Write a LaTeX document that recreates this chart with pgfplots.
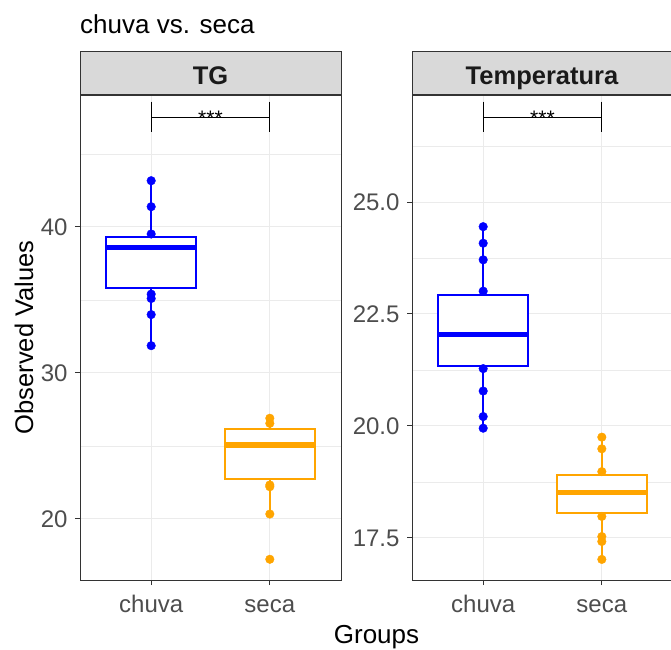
\documentclass[border=0pt]{standalone}
\usepackage{fontspec}
\setmainfont{Liberation Sans}
\usepackage{pgfplots}
\pgfplotsset{compat=1.18}

\definecolor{gridgray}{HTML}{EBEBEB}
\definecolor{gray20}{HTML}{333333}
\definecolor{gray30}{HTML}{4D4D4D}
\definecolor{stripgray}{HTML}{D9D9D9}
\definecolor{strtext}{HTML}{1A1A1A}
\definecolor{chuvacol}{HTML}{0000FF}
\definecolor{secacol}{HTML}{FFA500}

\pgfplotsset{
  panel/.style={
    scale only axis, width=261pt, height=485pt, anchor=south west,
    xmin=0.4, xmax=2.6, xtick={1,2}, xticklabels={chuva,seca},
    xmajorgrids, ymajorgrids, yminorgrids,
    major grid style={draw=gridgray, line width=1pt},
    minor grid style={draw=gridgray, line width=0.5pt},
    axis line style={draw=gray20, line width=1pt},
    tick style={draw=gray20, line width=1pt},
    tick align=outside, tick pos=left,
    major tick length=5pt, minor tick length=0pt,
    ticklabel style={font=\fontsize{24}{28}\selectfont, text=gray30},
    xticklabel style={text height=17pt, yshift=-7pt},
    yticklabel style={xshift=-4pt},
    /pgf/number format/assume math mode=true,
    clip=false,
  },
  whisk/.style={line width=1.8pt, mark=none},
  boxs/.style={line width=2pt, fill=white, mark=none, line join=miter},
  med/.style={line width=5.5pt, mark=none},
  pts/.style={only marks, mark=*, mark size=4.3pt},
}

\begin{document}
\begin{tikzpicture}
\path[use as bounding box] (0,0) rectangle (671pt,649pt);

% TG
\begin{axis}[panel, at={(80pt,69pt)}, name=tg,
  ymin=15.82, ymax=49.04, ytick={20,30,40}, minor ytick={25,35,45}]
% chuva: whiskers, points, box, median
\addplot[whisk, chuvacol] coordinates {(1,31.87) (1,35.8)};
\addplot[whisk, chuvacol] coordinates {(1,39.3) (1,43.17)};
\addplot[pts, chuvacol] coordinates {(1,43.17) (1,41.39) (1,39.52) (1,35.4) (1,35.1) (1,34.0) (1,31.87)};
\addplot[boxs, draw=chuvacol] coordinates {(0.62,35.8) (1.38,35.8) (1.38,39.3) (0.62,39.3)} -- cycle;
\addplot[med, chuvacol] coordinates {(0.62,38.58) (1.38,38.58)};
% seca (17.24 is an outlier)
\addplot[whisk, secacol] coordinates {(2,20.34) (2,22.72)};
\addplot[whisk, secacol] coordinates {(2,26.14) (2,26.9)};
\addplot[pts, secacol] coordinates {(2,26.9) (2,26.55) (2,22.33) (2,22.21) (2,20.34) (2,17.24)};
\addplot[boxs, draw=secacol] coordinates {(1.62,22.72) (2.38,22.72) (2.38,26.14) (1.62,26.14)} -- cycle;
\addplot[med, secacol] coordinates {(1.62,25.07) (2.38,25.07)};
\draw[black, line width=0.8pt] (axis cs:1,48.58) -- (axis cs:1,46.51)
  (axis cs:2,48.58) -- (axis cs:2,46.51) (axis cs:1,47.51) -- (axis cs:2,47.51);
\node[anchor=base, inner sep=0, font=\fontsize{21}{24}\selectfont] at (axis cs:1.5,46.92) {***};
\end{axis}

% Temperatura
\begin{axis}[panel, at={(412pt,69pt)}, name=temp,
  ymin=16.56, ymax=27.39, ytick={17.5,20,22.5,25}, minor ytick={16.25,18.75,21.25,23.75,26.25},
  yticklabel style={/pgf/number format/fixed, /pgf/number format/fixed zerofill,
    /pgf/number format/precision=1}]
\addplot[whisk, chuvacol] coordinates {(1,19.95) (1,21.34)};
\addplot[whisk, chuvacol] coordinates {(1,22.93) (1,24.45)};
\addplot[pts, chuvacol] coordinates {(1,24.45) (1,24.08) (1,23.71) (1,23.01) (1,21.28) (1,20.78) (1,20.21) (1,19.95)};
\addplot[boxs, draw=chuvacol] coordinates {(0.62,21.34) (1.38,21.34) (1.38,22.93) (0.62,22.93)} -- cycle;
\addplot[med, chuvacol] coordinates {(0.62,22.04) (1.38,22.04)};
\addplot[whisk, secacol] coordinates {(2,17.02) (2,18.05)};
\addplot[whisk, secacol] coordinates {(2,18.90) (2,19.75)};
\addplot[pts, secacol] coordinates {(2,19.75) (2,19.49) (2,18.98) (2,17.98) (2,17.53) (2,17.42) (2,17.02)};
\addplot[boxs, draw=secacol] coordinates {(1.62,18.05) (2.38,18.05) (2.38,18.90) (1.62,18.90)} -- cycle;
\addplot[med, secacol] coordinates {(1.62,18.51) (2.38,18.51)};
\draw[black, line width=0.8pt] (axis cs:1,27.24) -- (axis cs:1,26.56)
  (axis cs:2,27.24) -- (axis cs:2,26.56) (axis cs:1,26.89) -- (axis cs:2,26.89);
\node[anchor=base, inner sep=0, font=\fontsize{21}{24}\selectfont] at (axis cs:1.5,26.70) {***};
\end{axis}

% strips
\draw[fill=stripgray, draw=gray20, line width=1pt] (80pt,554pt) rectangle (341pt,597pt);
\draw[fill=stripgray, draw=gray20, line width=1pt] (412pt,554pt) rectangle (673pt,597pt);
\node[anchor=base, inner sep=0, text=strtext, font=\fontsize{25.5}{30}\selectfont\bfseries] at (210.5pt,564pt) {TG};
\node[anchor=base, inner sep=0, text=strtext, font=\fontsize{25.5}{30}\selectfont\bfseries] at (542pt,564pt) {Temperatura};

% titles
\node[anchor=base west, inner sep=0, font=\fontsize{26}{31}\selectfont] at (80pt,615pt) {chuva vs. seca};
\node[anchor=base, inner sep=0, rotate=90, font=\fontsize{25.5}{30}\selectfont] at (33pt,311.5pt) {Observed Values};
\node[anchor=base, inner sep=0, font=\fontsize{26}{31}\selectfont] at (376.5pt,6pt) {Groups};
\end{tikzpicture}
\end{document}
